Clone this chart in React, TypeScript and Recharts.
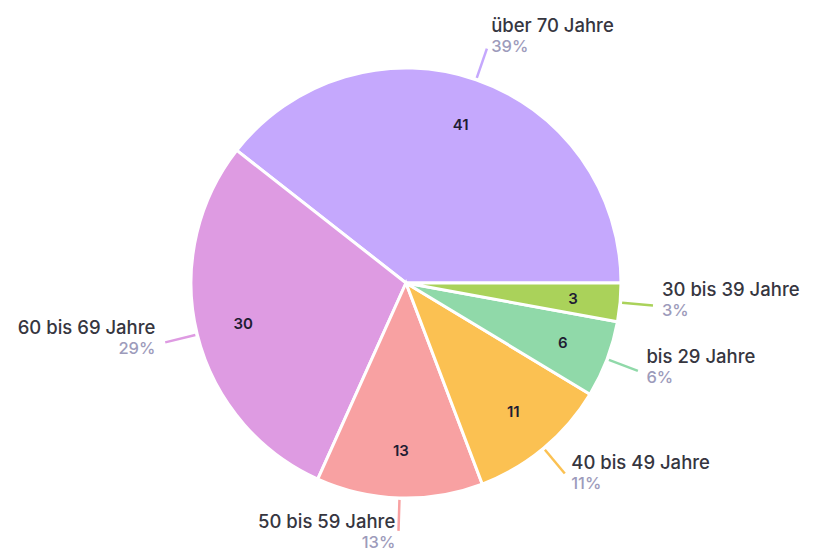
import { PieChart, Pie, Cell } from 'recharts';

const categories = ['über 70 Jahre', '60 bis 69 Jahre', '50 bis 59 Jahre', '40 bis 49 Jahre', 'bis 29 Jahre', '30 bis 39 Jahre'];
const counts = [41, 30, 13, 11, 6, 3];
const colors = ['#c5a8fd', '#de9be2', '#f8a1a2', '#fbc152', '#90d9a9', '#aad25a'];

const total = counts.reduce((a, b) => a + b, 0);
const data = categories.map((name, i) => ({ name, value: counts[i], pct: Math.round((counts[i] / total) * 100) }));

const RAD = Math.PI / 180;

function renderLabel(props: any) {
  const { cx, cy, midAngle, outerRadius, index } = props;
  const cos = Math.cos(-midAngle * RAD);
  const sin = Math.sin(-midAngle * RAD);
  const inner = outerRadius * 0.78;
  const ix = cx + inner * cos;
  const iy = cy + inner * sin;
  const sx = cx + (outerRadius + 2) * cos;
  const sy = cy + (outerRadius + 2) * sin;
  const ex = cx + (outerRadius + 33) * cos;
  const ey = cy + (outerRadius + 33) * sin;
  const tx = cx + (outerRadius + 40) * cos;
  const ty = cy + (outerRadius + 40) * sin;
  const right = cos >= 0;
  const anchor = right ? 'start' : 'end';
  const x = tx + (right ? 2 : -3);
  const d = data[index];
  return (
    <g>
      <text x={ix} y={iy} textAnchor="middle" dominantBaseline="central" fill="#1f1d33" fontSize={15} fontWeight={600}>
        {d.value}
      </text>
      <line x1={sx} y1={sy} x2={ex} y2={ey} stroke={colors[index]} strokeWidth={2.5} />
      <text x={x} y={ty - 17} textAnchor={anchor} dominantBaseline="central" fill="#36363f" fontSize={18.5} fontWeight={500}>
        {d.name}
      </text>
      <text x={x} y={ty + 4} textAnchor={anchor} dominantBaseline="central" fill="#9d9bbb" fontSize={16.5} fontWeight={500}>
        {d.pct}%
      </text>
    </g>
  );
}

export default function App() {
  return (
    <div style={{ position: 'absolute', left: 0, top: 0, background: '#fff', fontFamily: 'Inter, sans-serif' }}>
      <PieChart width={816} height={553} margin={{ top: 0, right: 0, bottom: 0, left: 0 }}>
        <Pie
          data={data}
          dataKey="value"
          nameKey="name"
          cx={406}
          cy={283}
          outerRadius={215}
          startAngle={0}
          endAngle={360}
          stroke="#ffffff"
          strokeWidth={3}
          label={renderLabel}
          labelLine={false}
          isAnimationActive={false}
        >
          {data.map((d, i) => (
            <Cell key={d.name} fill={colors[i]} />
          ))}
        </Pie>
      </PieChart>
    </div>
  );
}
